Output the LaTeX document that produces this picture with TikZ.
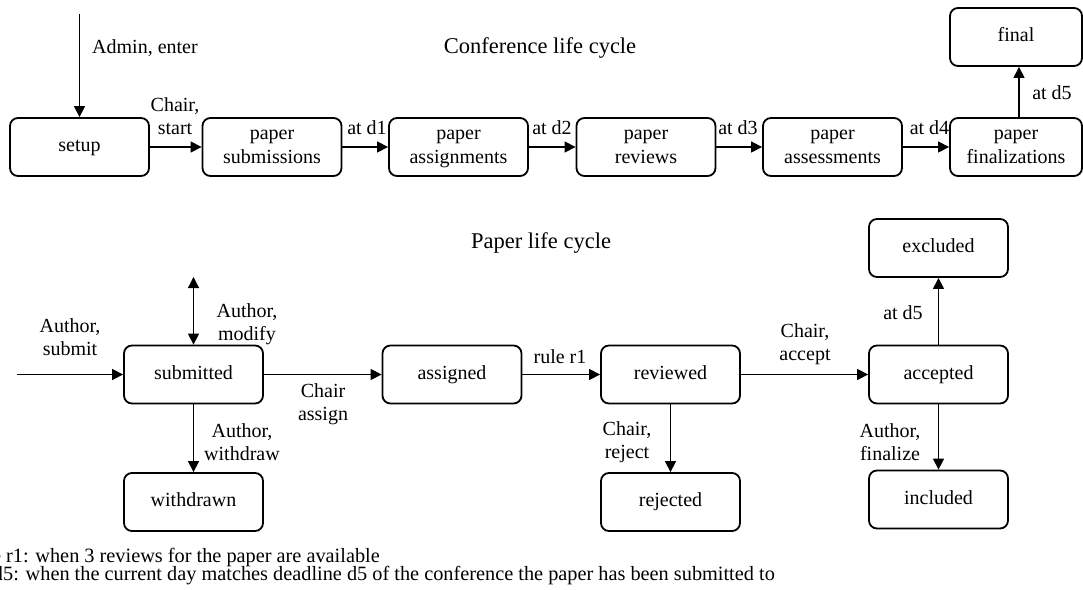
\documentclass[tikz,border=0pt]{standalone}
\usepackage{fontspec}
\setmainfont{Liberation Serif}
\usetikzlibrary{arrows.meta}
\begin{document}
\begin{tikzpicture}[x=1pt,y=-1pt,
 state/.style={draw, line width=1.8pt, rounded corners=8pt, minimum width=139pt, minimum height=58pt, inner sep=0pt, align=center, font=\fontsize{20}{24}\selectfont},
 lbl/.style={inner sep=0pt, align=center, font=\fontsize{20}{23}\selectfont},
 note/.style={inner sep=0pt, font=\fontsize{20.3}{23}\selectfont},
 ttl/.style={inner sep=0pt, font=\fontsize{22.5}{26}\selectfont},
 arr/.style={line width=1.3pt, -{Triangle[length=11pt,width=11pt]}},
 darr/.style={line width=1.3pt, {Triangle[length=11pt,width=11pt]}-{Triangle[length=11pt,width=11pt]}}
]
\clip (0,0) rectangle (1083,589);
% Conference life cycle
\node[ttl] (ctitle) at (540,48) {Conference life cycle};
\node[state] (setup) at (79.5,147) {\strut setup};
\node[state] (subm) at (272,147) {\strut paper\\\strut submissions};
\node[state] (asgn) at (458.5,147) {\strut paper\\\strut assignments};
\node[state] (rev) at (646,147) {\strut paper\\\strut reviews};
\node[state] (ass) at (832.5,147) {\strut paper\\\strut assessments};
\node[state, minimum width=132pt] (fin) at (1016,147) {\strut paper\\\strut finalizations};
\node[state, minimum width=132pt] (final) at (1016,37) {\strut final};
\coordinate (cstart) at (79.5,14);
\draw[arr] (cstart) -- (setup.north);
\draw[arr] (setup) -- (subm);
\draw[arr] (subm) -- (asgn);
\draw[arr] (asgn) -- (rev);
\draw[arr] (rev) -- (ass);
\draw[arr] (ass) -- (fin);
\draw[arr] (fin.north -| final.north) ++(3,0) coordinate (fup) -- (fup |- final.south);
\node[lbl, anchor=west] (ladmin) at (92,48) {Admin, enter};
\node[lbl] (lstart) at (175,116) {Chair,\\start};
\node[lbl] (ld1) at (367,128) {at d1};
\node[lbl] (ld2) at (552,128) {at d2};
\node[lbl] (ld3) at (738,128) {at d3};
\node[lbl] (ld4) at (929.5,128) {at d4};
\node[lbl] (ld5) at (1052,93) {at d5};
% Paper life cycle
\node[ttl] (ptitle) at (541,243) {Paper life cycle};
\node[state] (submitted) at (193.5,374.5) {\strut submitted};
\node[state] (withdrawn) at (193.5,502) {\strut withdrawn};
\node[state] (assigned) at (452,374.5) {\strut assigned};
\node[state] (reviewed) at (670.5,374.5) {\strut reviewed};
\node[state] (rejected) at (670.5,502) {\strut rejected};
\node[state] (accepted) at (938.5,374.5) {\strut accepted};
\node[state] (excluded) at (938.5,248) {\strut excluded};
\node[state] (included) at (938.5,499.5) {\strut included};
\coordinate (pin) at (17,374.5);
\coordinate (pmod) at (193.5,277);
\draw[arr] (pin) -- (submitted.west);
\draw[darr] (pmod) -- (submitted.north);
\draw[arr] (submitted) -- (assigned);
\draw[arr] (submitted) -- (withdrawn);
\draw[arr] (assigned) -- (reviewed);
\draw[arr] (reviewed) -- (rejected);
\draw[arr] (reviewed) -- (accepted);
\draw[arr] (accepted) -- (excluded);
\draw[arr] (accepted) -- (included);
\node[lbl] (lsubmit) at (70,337) {Author,\\submit};
\node[lbl] (lmodify) at (247,324) {Author,\\modify};
\node[lbl] (lassign) at (323,404) {Chair\\assign};
\node[lbl] (lwithdraw) at (242,442) {Author,\\withdraw};
\node[lbl] (lr1) at (560,357) {rule r1};
\node[lbl] (lreject) at (627,442) {Chair,\\reject};
\node[lbl] (laccept) at (805,344) {Chair,\\accept};
\node[lbl] (lpd5) at (903,313) {at d5};
\node[lbl] (lfinalize) at (890,442) {Author,\\finalize};
% footnotes
\node[note, anchor=base east] (fn1) at (380,562) {rule r1: when 3 reviews for the paper are available};
\node[note, anchor=base east] (fn2) at (775,580) {at d5: when the current day matches deadline d5 of the conference the paper has been submitted to};
\end{tikzpicture}
\end{document}
